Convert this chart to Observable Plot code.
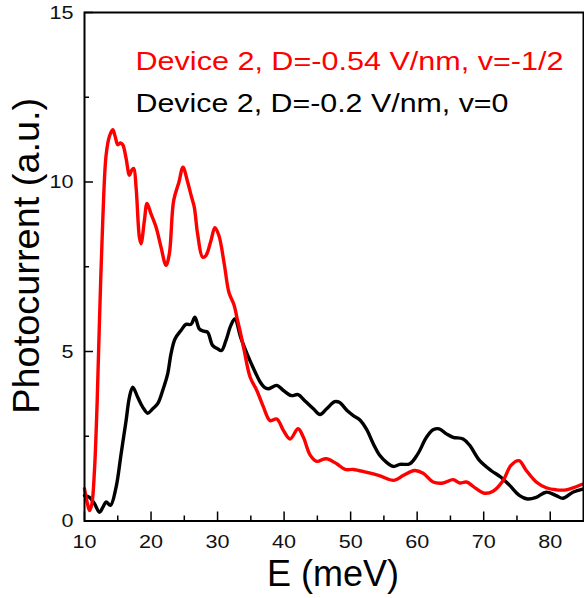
<!DOCTYPE html>
<html>
<head>
<meta charset="utf-8">
<script src="https://cdn.jsdelivr.net/npm/d3@7"></script>
<script src="https://cdn.jsdelivr.net/npm/@observablehq/plot@0.6"></script>
<style>
  html, body { margin: 0; padding: 0; background: #fff; }
  svg { display: block; }
</style>
</head>
<body>
<div id="chart"></div>
<script>
// Red series: Device 2, D=-0.54 V/nm, v=-1/2
const redE = [10.0,10.4,10.75,11.1,11.5,11.9,12.25,12.75,13.25,13.75,14.25,14.6,15.0,15.4,15.75,16.25,16.75,17.1,17.4,17.75,18.25,18.5,19.0,19.4,20.0,20.75,21.5,22.25,22.75,23.4,24.2,24.8,25.5,26.1,26.5,27.0,27.75,28.25,29.0,29.6,30.2,31.0,31.7,32.5,32.9,33.5,34.0,34.9,35.9,36.9,37.9,38.9,39.9,40.9,42.1,42.9,43.9,44.9,46.0,46.5,47.9,49.2,50.4,52.3,54.3,56.5,57.9,59.6,60.9,62.4,63.9,65.4,66.4,67.4,68.9,70.1,71.4,72.9,74.1,75.3,76.4,77.9,79.4,80.9,82.4,85.0];
const redV = [0.95,0.55,0.31,0.5,1.5,3.5,5.9,8.9,10.8,11.35,11.54,11.35,11.1,11.15,11.1,10.7,10.2,10.35,10.4,9.85,8.37,8.18,8.86,9.37,9.06,8.67,8.08,7.54,7.88,9.45,10.0,10.44,10.0,9.55,9.26,8.47,7.78,7.83,8.27,8.65,8.42,7.59,6.75,6.36,6.01,5.5,5.03,4.24,3.85,3.36,2.96,3.01,2.67,2.42,2.72,2.47,1.95,1.76,1.83,1.83,1.69,1.52,1.52,1.44,1.34,1.2,1.34,1.49,1.41,1.15,1.12,1.22,1.12,1.15,0.95,0.82,0.88,1.19,1.64,1.78,1.49,1.15,0.98,0.92,0.92,1.1];

// Black series: Device 2, D=-0.2 V/nm, v=0
const blackE = [10.0,10.75,11.5,12.25,12.75,13.25,13.9,14.75,15.5,16.25,16.75,17.25,18.0,18.75,19.5,20.25,21.0,21.75,22.5,23.0,23.6,24.5,25.25,26.0,26.6,27.25,27.9,28.5,29.25,30.0,30.6,31.25,32.0,32.6,33.5,34.5,35.4,36.4,37.0,37.6,38.9,39.9,41.1,42.1,43.1,44.4,45.4,46.4,47.6,48.3,49.5,50.4,51.4,52.4,53.4,54.4,55.4,56.4,57.4,58.9,60.1,61.4,62.4,63.3,64.4,65.4,66.9,67.9,69.4,71.1,72.6,73.9,75.4,76.6,77.9,79.4,80.9,81.9,83.4,85.0];
const blackV = [0.75,0.7,0.51,0.26,0.4,0.56,0.46,1.0,1.98,2.96,3.65,3.95,3.65,3.36,3.18,3.31,3.46,3.85,4.34,4.93,5.37,5.62,5.8,5.8,6.01,5.67,5.6,5.57,5.18,5.08,5.03,5.32,5.77,5.96,5.4,4.9,4.5,4.1,3.95,3.9,4.0,3.85,3.7,3.73,3.55,3.31,3.14,3.31,3.52,3.5,3.25,3.11,2.98,2.7,2.28,1.93,1.73,1.61,1.67,1.69,1.98,2.47,2.69,2.72,2.57,2.47,2.42,2.23,1.78,1.49,1.29,1.05,0.75,0.65,0.7,0.85,0.75,0.67,0.85,0.95];

const xMajorTicks = [10,20,30,40,50,60,70,80];
const xMinorTicks = [15,25,35,45,55,65,75];
const yMajorTicks = [0,5,10,15];
const yMinorTicks = [2.5,7.5,12.5];

const legendRed = "Device 2, D=-0.54 V/nm, v=-1/2";
const legendBlack = "Device 2, D=-0.2 V/nm, v=0";
const xLabel = "E (meV)";
const yLabel = "Photocurrent (a.u.)";

const redData = redE.map((e, i) => ({E: e, v: redV[i]}));
const blackData = blackE.map((e, i) => ({E: e, v: blackV[i]}));

const FONT = "'Liberation Sans', Arial, sans-serif";

const svg = Plot.plot({
  width: 584,
  height: 598,
  marginLeft: 84,
  marginRight: 1,
  marginTop: 12,
  marginBottom: 77.5,
  style: {fontFamily: FONT, fontSize: "19px", background: "#fff", color: "#000"},
  x: {domain: [10, 85], ticks: xMajorTicks, tickSize: 0, tickPadding: 13, label: null},
  y: {domain: [0, 15], ticks: yMajorTicks, tickSize: 0, tickPadding: 11, label: null},
  marks: [
    Plot.line(blackData, {x: "E", y: "v", stroke: "#000", strokeWidth: 3.4, curve: "catmull-rom"}),
    Plot.line(redData, {x: "E", y: "v", stroke: "#ff0000", strokeWidth: 3.4, curve: "catmull-rom"}),
    Plot.ruleX(xMajorTicks, {x: d => d, y1: 0, y2: 0, insetTop: -9, stroke: "#000", strokeWidth: 1.5}),
    Plot.ruleX(xMinorTicks, {x: d => d, y1: 0, y2: 0, insetTop: -5, stroke: "#000", strokeWidth: 1.5}),
    Plot.ruleY(yMajorTicks, {y: d => d, x1: 10, x2: 10, insetRight: -9, stroke: "#000", strokeWidth: 1.5}),
    Plot.ruleY(yMinorTicks, {y: d => d, x1: 10, x2: 10, insetRight: -5, stroke: "#000", strokeWidth: 1.5}),
    Plot.frame({stroke: "#000", strokeWidth: 2}),
    Plot.text([legendRed], {text: d => d, frameAnchor: "top-left", textAnchor: "start", lineAnchor: "bottom", dx: 51, dy: 57.5, fontSize: 26, fill: "#ff0000"}),
    Plot.text([legendBlack], {text: d => d, frameAnchor: "top-left", textAnchor: "start", lineAnchor: "bottom", dx: 51, dy: 99, fontSize: 26, fill: "#000"}),
    Plot.text([xLabel], {text: d => d, frameAnchor: "bottom", textAnchor: "middle", lineAnchor: "bottom", dx: -1, dy: 64.5, fontSize: 36, fill: "#000"}),
    Plot.text([yLabel], {text: d => d, frameAnchor: "left", textAnchor: "middle", lineAnchor: "bottom", rotate: -90, dx: -46, dy: -11, fontSize: 36, fill: "#000"})
  ]
});

const tickLabels = new Set([...xMajorTicks, ...yMajorTicks].map(String));

d3.select(svg).selectAll("text").each(function() {
  const t = this.textContent;
  const sel = d3.select(this);
  if (t === legendRed) sel.attr("textLength", 428).attr("lengthAdjust", "spacingAndGlyphs");
  if (t === legendBlack) sel.attr("textLength", 373).attr("lengthAdjust", "spacingAndGlyphs");
  if (t === yLabel) sel.attr("textLength", 316).attr("lengthAdjust", "spacingAndGlyphs");
  if (tickLabels.has(t)) {
    sel.style("font-size", "19px").style("fill", "#111")
       .attr("textLength", t.length * 12).attr("lengthAdjust", "spacingAndGlyphs");
  }
});

document.getElementById("chart").appendChild(svg);
</script>
</body>
</html>
